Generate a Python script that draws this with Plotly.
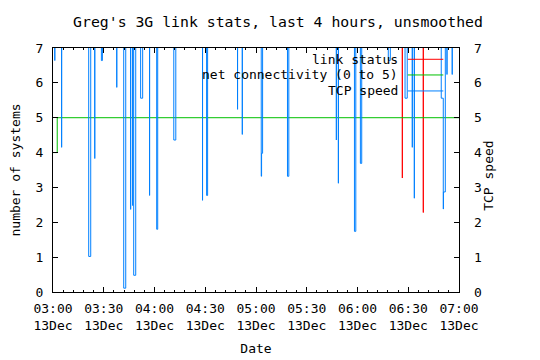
import plotly.graph_objects as go

DAY = "2008-12-13 "

# TCP speed (blue step line); 7.6 = off-scale (above plotted range)
tcp_times = [
    "03:00:00",
    "03:01:04", "03:01:04",
    "03:05:06", "03:05:06",
    "03:21:06", "03:22:18",
    "03:24:42", "03:24:42",
    "03:28:36", "03:29:12",
    "03:37:42", "03:37:42",
    "03:41:48", "03:43:00",
    "03:45:54", "03:45:54",
    "03:47:06", "03:47:06",
    "03:47:42", "03:48:54",
    "03:51:48", "03:53:00",
    "03:57:06", "03:57:06",
    "04:01:18", "04:01:54",
    "04:11:24", "04:12:36",
    "04:28:24", "04:28:24",
    "04:30:48", "04:31:24",
    "04:49:06", "04:49:06",
    "04:51:54", "04:51:54",
    "05:03:06", "05:03:18", "05:03:54",
    "05:18:36", "05:19:24",
    "05:47:30", "05:47:30",
    "05:48:42", "05:48:42",
    "05:58:12", "05:59:00",
    "06:01:42", "06:02:30",
    "06:18:12", "06:19:24",
    "06:28:06", "06:29:24",
    "06:32:24", "06:32:24",
    "06:33:36", "06:33:36",
    "06:49:30", "06:50:42", "06:50:48", "06:51:54",
    "06:52:54", "06:52:54",
    "06:56:00", "06:56:00",
    "07:00:00",
]
tcp_values = [
    7.6,
    6.64, 7.6,
    4.15, 7.6,
    1.02, 7.6,
    3.83, 7.6,
    6.64, 7.6,
    5.87, 7.6,
    0.11, 7.6,
    2.37, 7.6,
    2.48, 7.6,
    0.48, 7.6,
    5.56, 7.6,
    2.77, 7.6,
    1.80, 7.6,
    4.36, 7.6,
    2.63, 7.6,
    2.77, 7.6,
    5.24, 7.6,
    4.52, 7.6,
    3.32, 3.98, 7.6,
    3.32, 7.6,
    4.36, 7.6,
    3.12, 7.6,
    1.74, 7.6,
    3.69, 7.6,
    6.64, 7.6,
    5.56, 7.6,
    4.15, 7.6,
    2.69, 7.6,
    5.56, 2.38, 2.87, 7.6,
    6.24, 7.6,
    6.24, 7.6,
    7.6,
]

# link status (red)
link_times = ["03:00:00", "06:26:30", "06:26:30", "06:38:54", "06:38:54", "07:00:00"]
link_values = [7.6, 3.27, 7.6, 2.28, 7.6, 7.6]

# net connectivity (green)
net_times = ["03:00:00", "03:02:30", "07:00:00"]
net_values = [4, 5, 5]

legend_names = ["link status", "net connectivity (0 to 5)", "TCP speed"]
colors = ["#ff0000", "#00c000", "#0080ff"]

FONT = "DejaVu Sans Mono"
FS = 13

fig = go.Figure()
fig.add_trace(go.Scatter(x=[DAY + t for t in link_times], y=link_values, mode="lines",
                         line=dict(color=colors[0], width=1, shape="hv"), name=legend_names[0]))
fig.add_trace(go.Scatter(x=[DAY + t for t in net_times], y=net_values, mode="lines",
                         line=dict(color=colors[1], width=1, shape="hv"), name=legend_names[1]))
fig.add_trace(go.Scatter(x=[DAY + t for t in tcp_times], y=tcp_values, mode="lines", yaxis="y2",
                         line=dict(color=colors[2], width=1, shape="hv"), name=legend_names[2]))

L, R, T, B = 52.5, 459.0, 48.0, 292.3
W, H = 540, 360
pw, ph = R - L, B - T

def px(x):
    return (x - L) / pw

def py(y):
    return (B - y) / ph

tf = dict(family=FONT, size=FS, color="black")

annotations = []
shapes = []
rows_y = [59.3, 75.0, 91.0]
for name, col, yy in zip(legend_names, colors, rows_y):
    annotations.append(dict(x=px(399.5), y=py(yy), xref="paper", yref="paper", text=name,
                            showarrow=False, xanchor="right", yanchor="middle", font=tf))
    shapes.append(dict(type="line", xref="paper", yref="paper", x0=px(407.7), x1=px(443.3),
                       y0=py(yy), y1=py(yy), line=dict(color=col, width=1)))

# right axis title
annotations.append(dict(x=px(489), y=py(176), xref="paper", yref="paper", text="TCP speed",
                        textangle=-90, showarrow=False, xanchor="center", yanchor="middle", font=tf))

fig.update_layout(
    width=W, height=H,
    margin=dict(l=L, r=W - R, t=T, b=H - B, autoexpand=False),
    paper_bgcolor="white", plot_bgcolor="white",
    showlegend=False,
    font=tf,
    title=dict(text="Greg's 3G link stats, last 4 hours, unsmoothed", x=278 / W,
               xanchor="center", y=1 - 22 / H, yanchor="middle",
               font=dict(family=FONT, size=14.8, color="black")),
    xaxis=dict(type="date", range=[DAY + "03:00:00", DAY + "07:00:00"], automargin=False,
               tick0=DAY + "03:00:00", dtick=30 * 60 * 1000, tickformat="%H:%M<br>%d%b",
               ticks="inside", ticklen=5, tickcolor="black", showline=True, linecolor="black",
               linewidth=1, mirror="ticks", showgrid=False, zeroline=False,
               minor=dict(ticks="inside", ticklen=2, dtick=6 * 60 * 1000, tickcolor="black", showgrid=False),
               ticklabelstandoff=4,
               title=dict(text="Date", standoff=12, font=tf), tickfont=tf),
    yaxis=dict(range=[0, 7], dtick=1, ticks="inside", ticklen=5, tickcolor="black", automargin=False,
               showline=True, linecolor="black", linewidth=1, mirror="ticks",
               showgrid=False, zeroline=False, ticklabelstandoff=6, tickfont=tf,
               title=dict(text="number of systems", standoff=12, font=tf)),
    yaxis2=dict(range=[0, 7], dtick=1, overlaying="y", side="right", ticks="", automargin=False,
                showline=False, showgrid=False, zeroline=False, ticklabelstandoff=14,
                tickfont=tf),
    annotations=annotations,
    shapes=shapes,
)

fig.write_html("out.html")
